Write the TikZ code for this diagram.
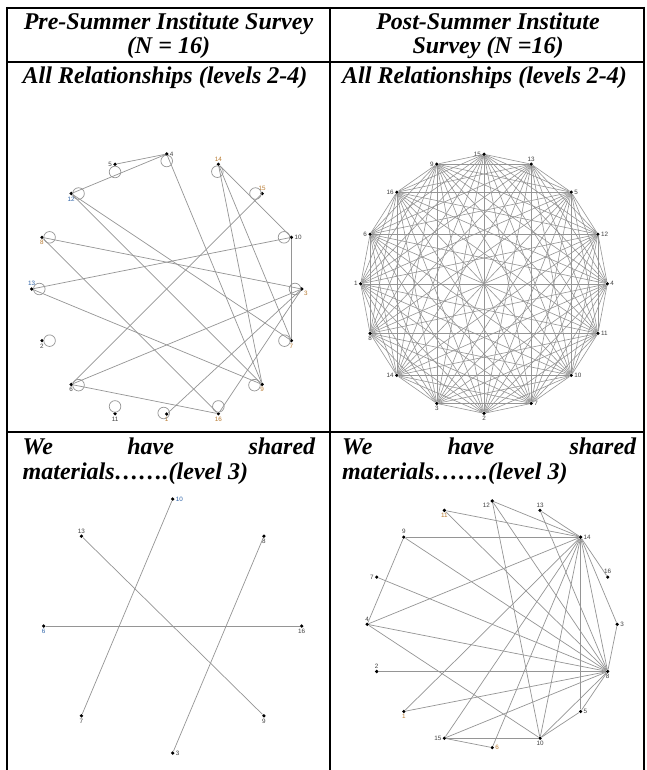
\documentclass[tikz,border=0pt]{standalone}
\usepackage{fontspec}
\setmainfont{Liberation Serif}
\setsansfont{Liberation Sans}
\usetikzlibrary{calc}
\definecolor{edgegray}{HTML}{959595}
\definecolor{labgray}{HTML}{404040}
\definecolor{labblue}{HTML}{2F64A8}
\definecolor{laborng}{HTML}{B87A30}
\begin{document}
\begin{tikzpicture}[x=1pt,y=-1pt,
  tbl/.style={line width=2pt, black},
  hdr/.style={font=\fontsize{24}{24}\selectfont\bfseries\itshape, inner sep=0pt},
  vx/.style={circle, fill=black, inner sep=0pt, minimum size=3.6pt},
  lbl/.style={font=\sffamily\fontsize{6.3}{6.3}\selectfont, text=labgray, inner sep=0.6pt},
  edge/.style={draw=edgegray, line width=0.7pt},
  loopc/.style={draw=edgegray, line width=0.7pt},
  every label/.style={lbl},
  label distance=0.3pt]
\useasboundingbox (0,0) rectangle (647,770);
\fill[white] (0,0) rectangle (647,770);

% ---------- table rules ----------
\draw[tbl] (6,8) -- (645,8);
\draw[tbl] (6,62) -- (645,62);
\draw[tbl] (6,432) -- (645,432);
\draw[tbl] (7,7) -- (7,770);
\draw[tbl] (330,7) -- (330,770);
\draw[tbl] (644,7) -- (644,770);

% ---------- texts ----------
\node[hdr, anchor=base] (h1a) at (168.5,30) {Pre-Summer Institute Survey};
\node[hdr, anchor=base] (h1b) at (168.5,54) {(N = 16)};
\node[hdr, anchor=base] (h2a) at (488,30) {Post-Summer Institute};
\node[hdr, anchor=base] (h2b) at (488,54) {Survey (N =16)};
\node[hdr, anchor=base west] (r1a) at (22.5,84) {All Relationships (levels 2-4)};
\node[hdr, anchor=base west] (r1b) at (342,84) {All Relationships (levels 2-4)};
\node[hdr, anchor=base west] (r2a) at (22.5,454) {\hbox to 292.5pt{We\hfill have\hfill shared}};
\node[hdr, anchor=base west] (r2b) at (22.5,479) {materials…….(level 3)};
\node[hdr, anchor=base west] (r2c) at (342,454) {\hbox to 294pt{We\hfill have\hfill shared}};
\node[hdr, anchor=base west] (r2d) at (342,479) {materials…….(level 3)};

% ---------- Pre, all relationships ----------
\foreach \n/\a/\r/\lp/\c/\ox/\oy in {
  4/90/135/right/labgray/0/7,
  14/67.5/135/above/laborng/-1/7.4,
  15/45/135/above/laborng/-6.7/0,
  10/22.5/135/right/labgray/-7.4/0,
  3/0/135/below right/laborng/-6.7/0,
  7/-22.5/135/below/laborng/-7/0,
  9/-45/135/below/laborng/-7.7/0.7,
  16/-67.5/135/below/laborng/0/-7.3,
  1/-90/125/below/laborng/-3/-1,
  11/-112.5/135/below/labgray/0/-7.3,
  6/-135/135/below/labgray/7.3/0.7,
  2/-157.5/135/below/labgray/7.6/0,
  13/180/135/above/labblue/7.6/0,
  8/157.5/135/below/laborng/7.6/0,
  12/135/135/below/labblue/7.3/0,
  5/112.5/135/left/labgray/0/7.7}{
  \node[vx, label={[text=\c]\lp:\n}] (p\n) at ({166.7+\r*cos(\a)},{289-\r*sin(\a)}) {};
  \draw[loopc] ($(p\n)+(\ox,\oy)$) circle[radius=5.8];
}
\foreach \u/\v in {5/4,12/4,4/9,14/10,14/9,14/7,15/6,10/13,10/7,12/7,12/9,13/9,8/16,8/3,6/3,6/16,16/3,1/3}{
  \draw[edge] (p\u) -- (p\v);
}

% ---------- Post, all relationships ----------
\foreach \n/\a/\lp in {15/90/left, 13/67.5/above, 5/45/right, 12/22.5/right,
  4/0/right, 11/-22.5/right, 10/-45/right, 7/-67.5/right, 2/-90/below,
  3/-112.5/below, 14/-135/left, 8/-157.5/below, 1/180/left, 6/157.5/left,
  16/135/left, 9/112.5/left}{
  \node[vx, label={\lp:\n}] (t\n) at ({484+123.3*cos(\a)},{283.8-129.5*sin(\a)}) {};
}
\foreach \i in {1,...,15}{
  \pgfmathtruncatemacro\s{\i+1}
  \foreach \j in {\s,...,16}{
    \draw[edge, line width=0.6pt] (t\i) -- (t\j);
  }
}

% ---------- Pre, shared materials ----------
\foreach \n/\a/\lp/\c in {10/90/right/labblue, 8/45/below/labgray, 16/0/below/labgray,
  9/-45/below/labgray, 3/-90/right/labgray, 7/-135/below/labgray,
  6/180/below/labblue, 13/135/above/labgray}{
  \node[vx, label={[text=\c]\lp:\n}] (m\n) at ({172.7+129*cos(\a)},{626-127*sin(\a)}) {};
}
\foreach \u/\v in {10/7,13/9,8/3,6/16}{
  \draw[edge] (m\u) -- (m\v);
}

% ---------- Post, shared materials ----------
\foreach \n/\a/\lp/\c in {12/90/below left/labgray, 13/67.5/above/labgray,
  14/45/right/labgray, 16/22.5/above/labgray, 3/0/right/labgray,
  8/-22.5/below/labgray, 5/-45/right/labgray, 10/-67.5/below/labgray,
  6/-90/right/laborng, 15/-112.5/left/labgray, 1/-135/below/laborng,
  2/-157.5/above/labgray, 4/180/above/labgray, 7/157.5/left/labgray,
  9/135/above/labgray, 11/112.5/below/laborng}{
  \node[vx, label={[text=\c]\lp:\n}] (s\n) at ({492.2+125*cos(\a)},{624.3-123.3*sin(\a)}) {};
}
\foreach \v in {11,12,13,9,4,1,15,6,10,5,8,16,3}{
  \draw[edge] (s14) -- (s\v);
}
\foreach \v in {12,13,11,9,7,4,2,1,15,10,5,3}{
  \draw[edge] (s8) -- (s\v);
}
\foreach \u/\v in {12/10,9/4,4/10,15/10,15/6,10/5}{
  \draw[edge] (s\u) -- (s\v);
}
\end{tikzpicture}
\end{document}
